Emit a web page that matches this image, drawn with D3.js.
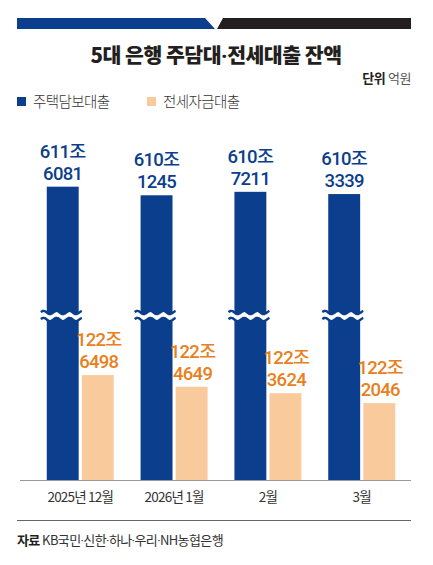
<!DOCTYPE html>
<html>
<head>
<meta charset="utf-8">
<script src="https://cdn.jsdelivr.net/npm/d3@7"></script>
<style>
body { margin: 0; background: #fff; }
text { font-family: "Noto Sans CJK KR", "Noto Sans", sans-serif; }
</style>
</head>
<body>
<div class="chart"></div>
<script>
// values in 억원
var months = ['2025년 12월', '2026년 1월', '2월', '3월'];
var seriesNames = ['주택담보대출', '전세자금대출'];
var mortgage = [6116081, 6101245, 6107211, 6103339];
var jeonse = [1226498, 1224649, 1223624, 1222046];
var titleText = '5대 은행 주담대·전세대출 잔액';
var sourceText = 'KB국민·신한·하나·우리·NH농협은행';

var colors = ['#0b3e8c', '#f9cb9c'];
var labelColors = ['#0b3e8c', '#e8801c'];

var data = months.map(function(m, i) {
  return { month: m, values: [mortgage[i], jeonse[i]] };
});

var fullWidth = 433;
var fullHeight = 565;
var baseline = 480;
var breakY = 316;

var svg = d3.select('.chart').append('svg')
  .attr('width', fullWidth)
  .attr('height', fullHeight);

// header band
svg.append('path')
  .attr('d', 'M17,18 L205,18 L215,29 L17,29 Z')
  .attr('fill', colors[0]);
svg.append('path')
  .attr('d', 'M223,18 L411,18 L411,29 L217,29 Z')
  .attr('fill', '#231f20');

// middle dots set in a narrow latin font so they don't take a full CJK width
var dotted = function(sel, str) {
  str.split('·').forEach(function(part, i) {
    if (i) sel.append('tspan').style('font-family', 'Roboto, sans-serif').text('·');
    sel.append('tspan').text(part);
  });
};

var title = svg.append('text')
  .attr('x', 216).attr('y', 63)
  .attr('text-anchor', 'middle')
  .attr('font-size', 20.5).attr('font-weight', 900)
  .attr('letter-spacing', -0.5)
  .attr('fill', '#231f20');
dotted(title, titleText);

var unit = svg.append('text')
  .attr('x', 411).attr('y', 83)
  .attr('text-anchor', 'end')
  .attr('font-size', 13)
  .attr('letter-spacing', -0.4);
unit.append('tspan').attr('font-weight', 700).attr('fill', '#231f20').text('단위 ');
unit.append('tspan').attr('fill', '#555').text('억원');

// legend
var legendX = [17, 147];
var legend = svg.selectAll('g.legend')
    .data(seriesNames)
  .enter().append('g')
    .classed('legend', true)
    .attr('transform', function(d, i) { return 'translate(' + legendX[i] + ',97)'; });
legend.append('rect')
  .attr('width', 9).attr('height', 9)
  .attr('fill', function(d, i) { return colors[i]; });
legend.append('text')
  .attr('x', 16).attr('y', 9.5)
  .attr('font-size', 14.5)
  .attr('font-weight', 300)
  .attr('letter-spacing', -0.6)
  .attr('fill', '#333')
  .text(function(d) { return d; });

// scales
var x0 = d3.scaleBand()
  .domain(months)
  .range([28, 414])
  .paddingInner(0.286)
  .paddingOuter(0.2);

var x1 = d3.scaleBand()
  .domain([0, 1])
  .range([0, x0.bandwidth()])
  .paddingInner(0.09);

// broken axis: each series has its own truncated scale
var yScales = [
  d3.scaleLinear().domain([6100000, 6120000]).range([196, 184.4]),
  d3.scaleLinear().domain([1220000, 1230000]).range([416, 353])
];

var xAxis = d3.axisBottom(x0).tickSize(0).tickPadding(12);
var xAxisEle = svg.append('g')
  .classed('x axis', true)
  .attr('transform', 'translate(0,' + baseline + ')')
  .call(xAxis);
xAxisEle.select('.domain').remove();
xAxisEle.selectAll('text')
  .attr('font-size', 13.5)
  .attr('letter-spacing', -0.8)
  .attr('fill', '#333')
  .style('font-family', '"Noto Sans CJK KR", sans-serif');

var groups = svg.selectAll('g.group')
    .data(data)
  .enter().append('g')
    .classed('group', true)
    .attr('transform', function(d) { return 'translate(' + x0(d.month) + ',0)'; });

groups.selectAll('rect.bar')
    .data(function(d) { return d.values; })
  .enter().append('rect')
    .classed('bar', true)
    .attr('x', function(d, i) { return x1(i); })
    .attr('width', x1.bandwidth())
    .attr('y', function(d, i) { return yScales[i](d); })
    .attr('height', function(d, i) { return baseline - yScales[i](d); })
    .attr('fill', function(d, i) { return colors[i]; });

// wavy break on the mortgage bars
var wave = function(offset) {
  var pts = [];
  for (var x = x1(0) - 6; x <= x1(0) + x1.bandwidth() + 4; x += 1) {
    pts.push([x, breakY + offset + 1.7 * Math.sin((x - x1(0)) / 13 * 2 * Math.PI)]);
  }
  return pts;
};
var line = d3.line().curve(d3.curveBasis);
var upper = wave(-3.5), lower = wave(3.5);
groups.append('path')
  .attr('d', line(upper) + 'L' + lower.slice().reverse().map(function(p) { return p.join(','); }).join('L') + 'Z')
  .attr('fill', '#fff');
groups.append('path')
  .attr('d', line(upper))
  .attr('fill', 'none').attr('stroke', colors[0]).attr('stroke-width', 2.4);
groups.append('path')
  .attr('d', line(lower))
  .attr('fill', 'none').attr('stroke', colors[0]).attr('stroke-width', 2.4);

// value labels: 조 on first line, 억 on second (one text per line)
groups.each(function(d) {
  var g = d3.select(this);
  d.values.forEach(function(v, i) {
    var top = yScales[i](v);
    var lines = [Math.floor(v / 10000) + '조', String(v % 10000).padStart(4, '0')];
    lines.forEach(function(s, k) {
      g.append('text')
        .attr('x', x1(i) + x1.bandwidth() / 2 + (i ? 1 : 0))
        .attr('y', top - (k ? 7 : 29))
        .attr('text-anchor', 'middle')
        .attr('font-size', 18.5)
        .attr('font-weight', 500)
        .attr('letter-spacing', -0.7)
        .attr('fill', labelColors[i])
        .style('font-family', 'Roboto, "Noto Sans CJK KR", sans-serif')
        .text(s);
    });
  });
});

svg.append('line')
  .attr('x1', 20).attr('x2', 411)
  .attr('y1', baseline + 0.5).attr('y2', baseline + 0.5)
  .attr('stroke', '#9a9a9a').attr('stroke-width', 1);

svg.append('line')
  .attr('x1', 17).attr('x2', 411)
  .attr('y1', 520.5).attr('y2', 520.5)
  .attr('stroke', '#666').attr('stroke-width', 1);

var source = svg.append('text')
  .attr('x', 17).attr('y', 545)
  .attr('font-size', 13)
  .attr('letter-spacing', -0.6)
  .attr('fill', '#333');
source.append('tspan').attr('font-weight', 700).attr('fill', '#231f20').text('자료 ');
dotted(source.append('tspan'), sourceText);
</script>
</body>
</html>
